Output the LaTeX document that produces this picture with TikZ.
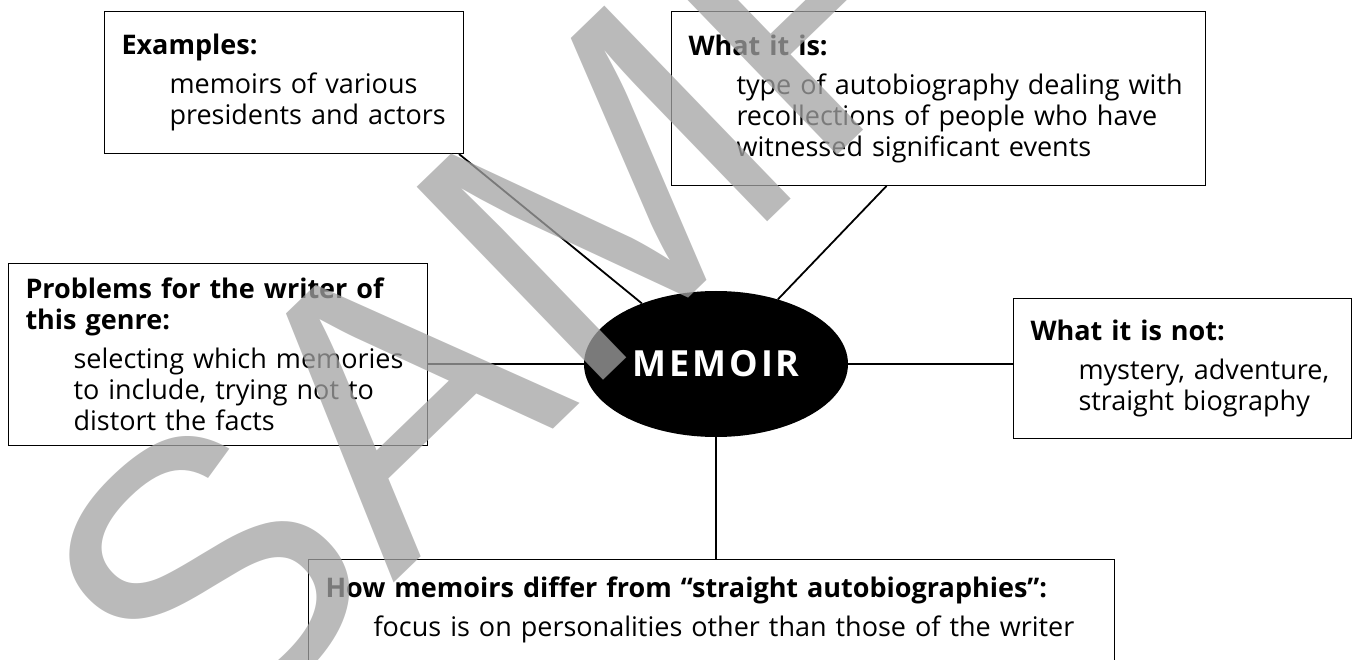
\documentclass[tikz,border=0pt]{standalone}
\usepackage{fontspec}
\setmainfont{Open Sans}
\newfontfamily\markfont{Liberation Sans}
\usetikzlibrary{shapes.geometric}

\tikzset{
  infobox/.style={draw,rectangle,anchor=north west,align=left,inner xsep=17pt,
    inner ysep=0pt,line width=1pt,font=\fontsize{27}{31}\selectfont},
  hub/.style={ellipse,fill=black,text=white,inner sep=0pt,
    minimum width=264pt,minimum height=146pt,font=\fontsize{36}{36}\selectfont\bfseries},
  spoke/.style={line width=1.8pt}
}
\newcommand{\ind}{\hspace*{48pt}}

\begin{document}
\begin{tikzpicture}[x=1pt,y=-1pt]
\clip (0,0) rectangle (1353,660);

% centre
\node[hub] (memoir) at (716,364) {M\kern3pt E\kern3pt M\kern3pt O\kern3pt I\kern3pt R};

% boxes round it
\node[infobox,text width=325pt,minimum height=142pt] (examples) at (104,11)
  {\textbf{Examples:}\\[8pt]\ind memoirs of various\\\ind presidents and actors};
\node[infobox,text width=500pt,minimum height=174pt] (whatis) at (671,11)
  {\textbf{What it is:}\\[8pt]\ind type of autobiography dealing with\\\ind recollections of people who have\\\ind witnessed significant events};
\node[infobox,text width=385pt,minimum height=182pt] (problems) at (8,263)
  {\textbf{Problems for the writer of}\\\textbf{this genre:}\\[8pt]\ind selecting which memories\\\ind to include, trying not to\\\ind distort the facts};
\node[infobox,text width=304pt,minimum height=140pt] (whatisnot) at (1013,298)
  {\textbf{What it is not:}\\[8pt]\ind mystery, adventure,\\\ind straight biography};
\node[infobox,text width=772pt,inner ysep=17pt,text depth=60pt] (differ) at (308,559)
  {\textbf{How memoirs differ from ``straight autobiographies'':}\\[8pt]\ind focus is on personalities other than those of the writer};

% spokes
\draw[spoke] ([xshift=-5pt]examples.south east) -- (memoir);
\draw[spoke] ([xshift=-52pt]whatis.south) -- (memoir);
\draw[spoke] (problems.east |- memoir) -- (memoir);
\draw[spoke] (memoir) -- (memoir -| whatisnot.west);
\draw[spoke] (memoir) -- (memoir |- differ.north);

% watermark
\node[rotate=44,text=black!36,opacity=.75,font=\markfont\fontsize{390}{390}\selectfont] (stamp) at (682,118) {SAMPLE};
\end{tikzpicture}
\end{document}
